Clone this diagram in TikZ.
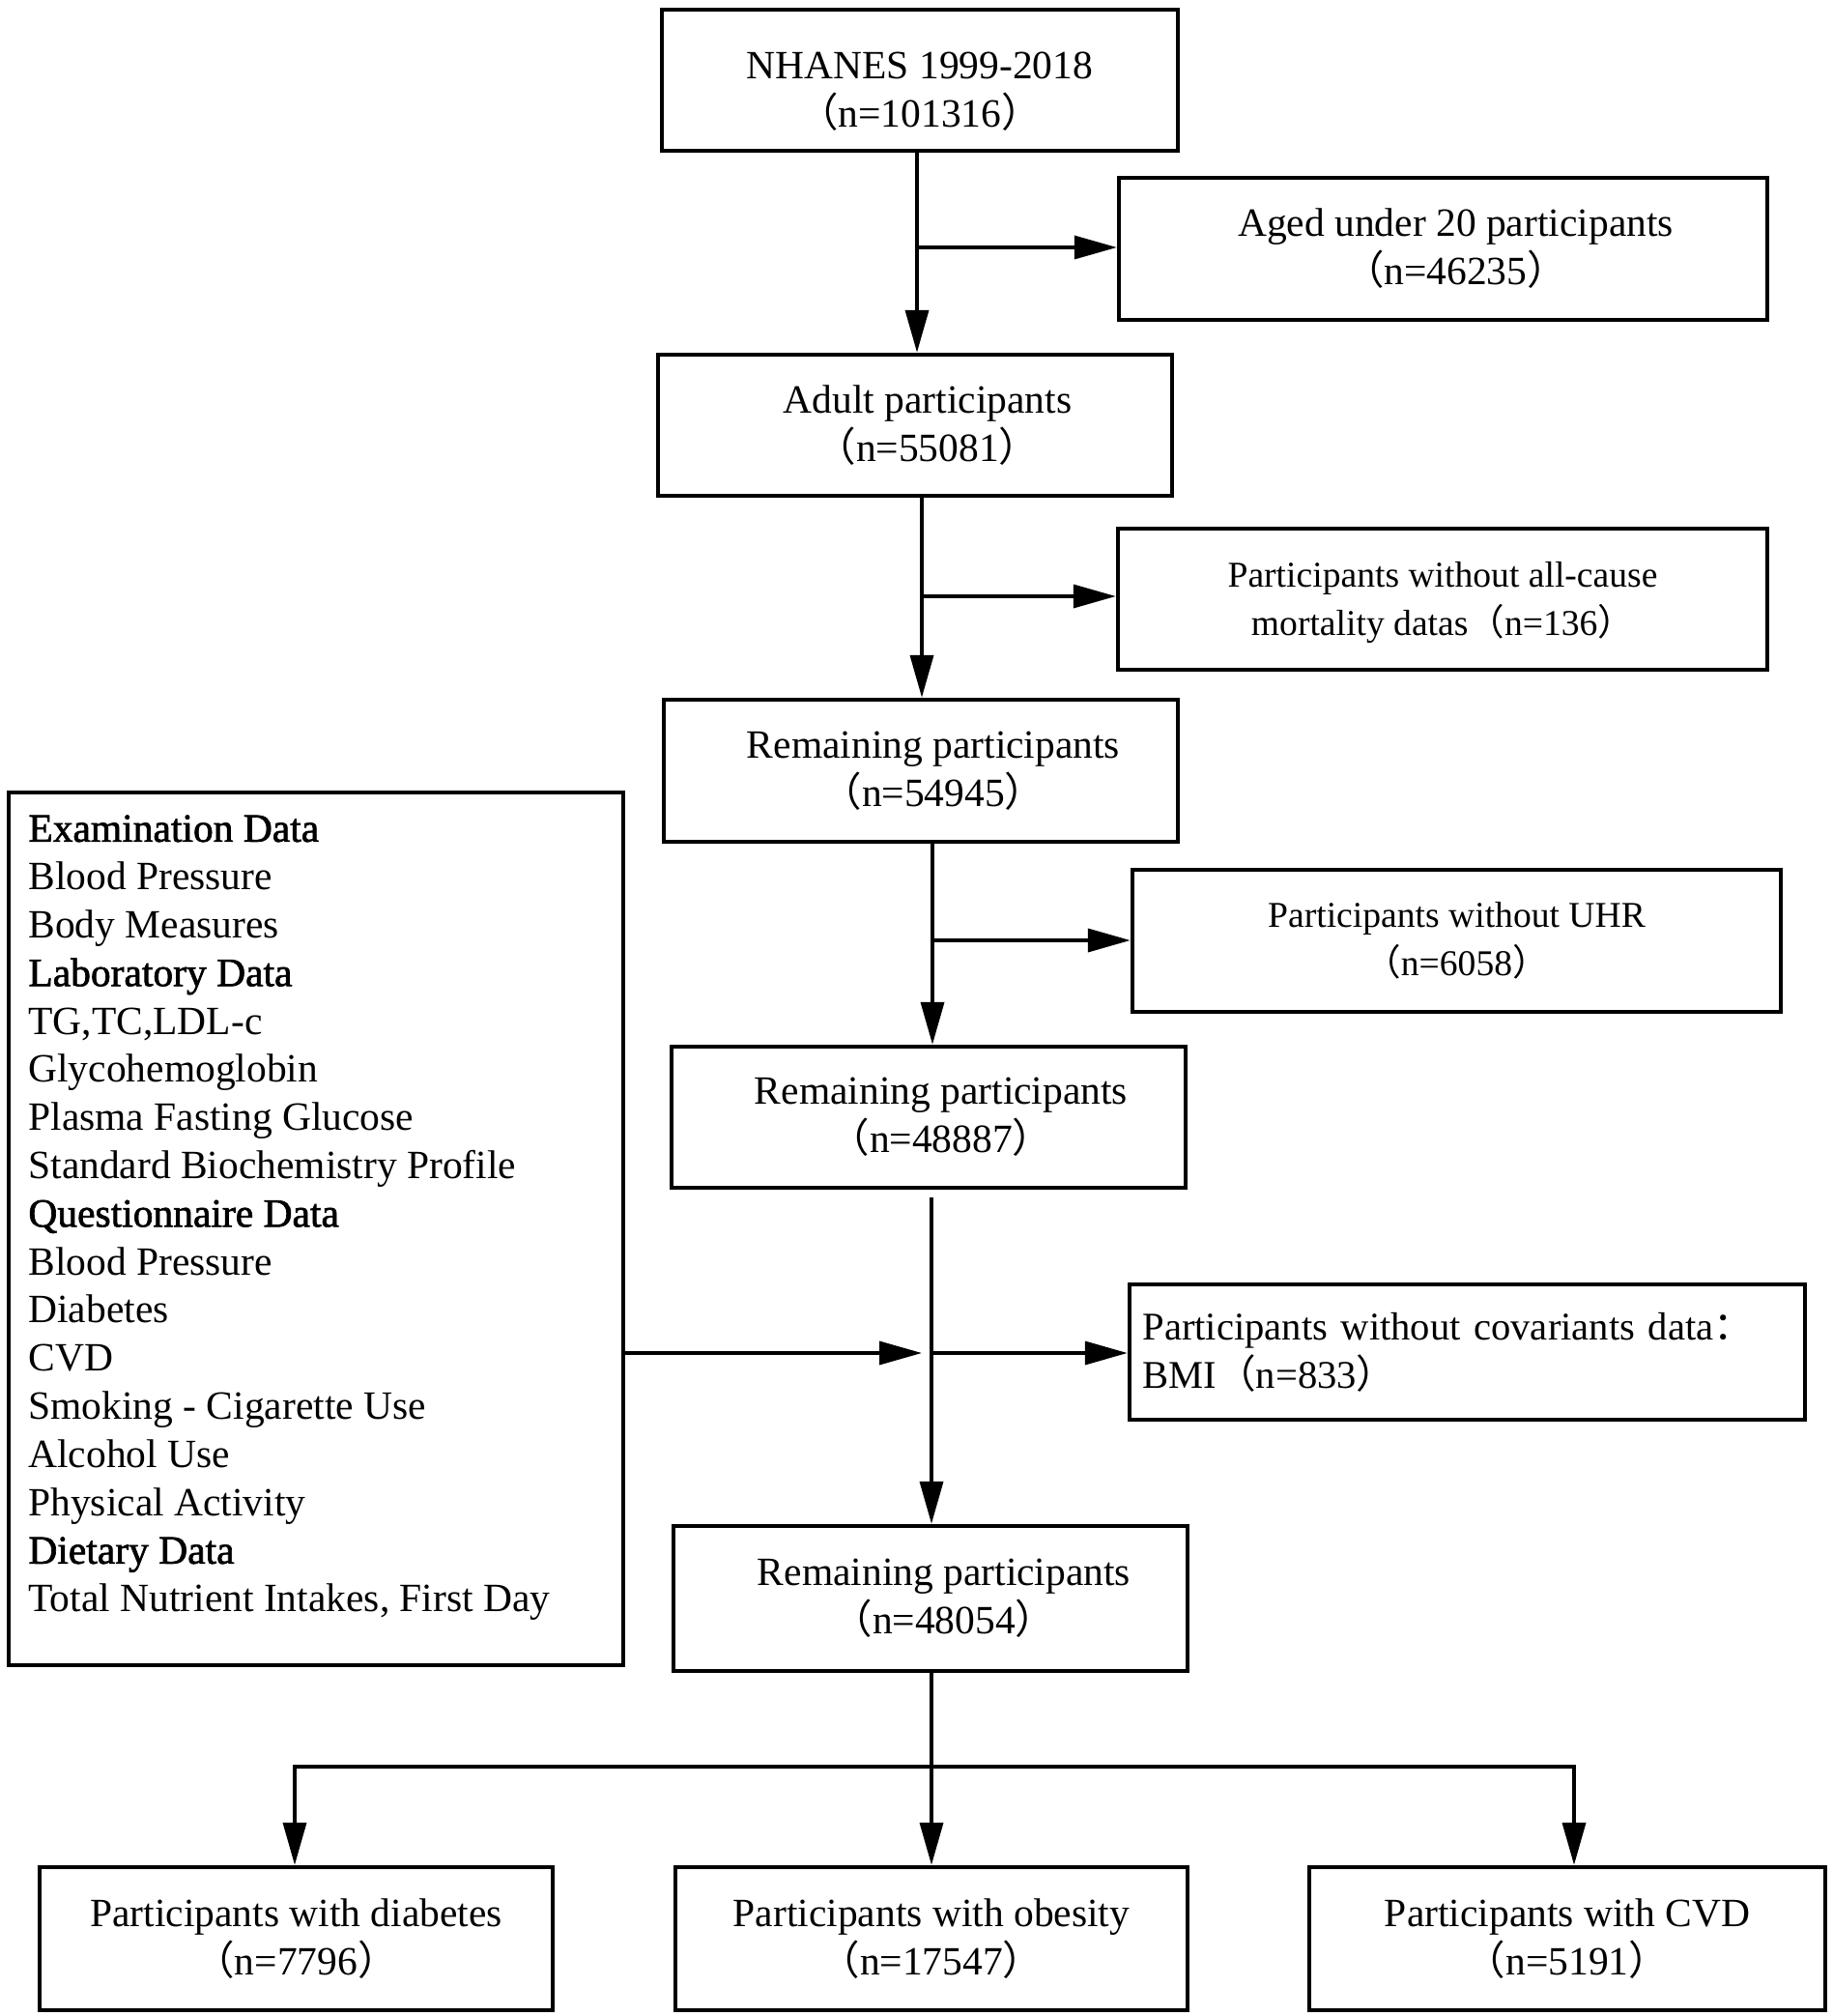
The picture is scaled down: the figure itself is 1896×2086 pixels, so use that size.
\documentclass[tikz,border=0pt]{standalone}
\usepackage{fontspec}
\setmainfont{Liberation Serif}
\newfontfamily\cjk{Noto Sans CJK SC}
\newfontfamily\fbold[FakeBold=1.6]{Liberation Serif}
\usetikzlibrary{arrows.meta}
\newcommand{\lpar}{{\cjk （}}
\newcommand{\rpar}{{\cjk ）}}
\newcommand{\fcolon}{{\cjk ：}}
\begin{document}
\begin{tikzpicture}[x=0.5pt,y=-0.5pt,
  every node/.style={font=\fontsize{20.75}{25}\selectfont},
  box/.style={draw, line width=2.2pt, inner sep=0pt, align=center},
  lbl/.style={align=center, inner sep=0pt},
  small/.style={font=\fontsize{18.8}{25}\selectfont},
  conn/.style={line width=1.8pt},
  arr/.style={conn, -{Triangle[length=22pt,width=12pt]}}]
\useasboundingbox (0,0) rectangle (1896,2086);

% main column
\node[box, minimum width=267pt, minimum height=73pt,
  label={[lbl, yshift=-6pt]center:NHANES 1999-2018\\\lpar n=101316\rpar}] (nh) at (952,83) {};
\node[box, minimum width=266pt, minimum height=73pt,
  label={[lbl, xshift=6.5pt]center:Adult participants\\\lpar n=55081\rpar}] (adult) at (947,440) {};
\node[box, minimum width=266pt, minimum height=73.5pt,
  label={[lbl, xshift=6.5pt]center:Remaining participants\\\lpar n=54945\rpar}] (r1) at (953,797.5) {};
\node[box, minimum width=266pt, minimum height=73pt,
  label={[lbl, xshift=6.5pt]center:Remaining participants\\\lpar n=48887\rpar}] (r2) at (961,1156) {};
\node[box, minimum width=266pt, minimum height=75pt,
  label={[lbl, xshift=7pt]center:Remaining participants\\\lpar n=48054\rpar}] (r3) at (963,1654) {};

% exclusion boxes
\node[box, minimum width=335.5pt, minimum height=73.5pt,
  label={[lbl, xshift=6.5pt]center:Aged under 20 participants\\\lpar n=46235\rpar}] (age) at (1493.5,257.5) {};
\node[box, minimum width=336pt, minimum height=73pt,
  label={[lbl, small, yshift=-2pt]center:Participants without all-cause\\mortality datas\lpar n=136\rpar}] (mort) at (1493,620) {};
\node[box, minimum width=335.5pt, minimum height=73.5pt,
  label={[lbl, small]center:Participants without UHR\\\lpar n=6058\rpar}] (uhr) at (1507.5,973.5) {};
\node[box, minimum width=349.5pt, minimum height=70pt, align=left, text width=336pt,
  font=\fontsize{20.3}{25}\selectfont] (cov) at (1518.5,1399) {Participants without covariants data\fcolon\\BMI\lpar n=833\rpar};

% bottom boxes
\node[box, minimum width=265.5pt, minimum height=74pt] (diab) at (306.5,2006) {Participants with diabetes\\\lpar n=7796\rpar};
\node[box, minimum width=265pt, minimum height=74pt] (obes) at (964,2006) {Participants with obesity\\\lpar n=17547\rpar};
\node[box, minimum width=267pt, minimum height=74pt] (cvdb) at (1622,2006) {Participants with CVD\\\lpar n=5191\rpar};

% left covariates box
\node[box, minimum width=318pt, minimum height=451.5pt] (lbox) at (327,1271.5) {};
\node[anchor=north west, inner sep=0pt, align=left, font=\fontsize{20.75}{24.9}\selectfont] (ltext) at (29,843) {%
{\fbold Examination Data}\\
Blood Pressure\\
Body Measures\\
{\fbold Laboratory Data}\\
TG,TC,LDL-c\\
Glycohemoglobin\\
Plasma Fasting Glucose\\
Standard Biochemistry Profile\\
{\fbold Questionnaire Data}\\
Blood Pressure\\
Diabetes\\
CVD\\
Smoking - Cigarette Use\\
Alcohol Use\\
Physical Activity\\
{\fbold Dietary Data}\\
Total Nutrient Intakes, First Day};

% junctions
\coordinate (j1) at (949,256);
\coordinate (j2) at (954,617);
\coordinate (j3) at (965,973);
\coordinate (j4) at (964,1400);
\coordinate (j5) at (954,1400);
\coordinate (hb) at (964,1828);
\coordinate (hl) at (305,1828);
\coordinate (hr) at (1629,1828);

% connectors
\draw[arr] (nh.south -| j1) -- (adult.north -| j1);
\draw[arr] (j1) -- (j1 -| age.west);
\draw[arr] (adult.south -| j2) -- (r1.north -| j2);
\draw[arr] (j2) -- (j2 -| mort.west);
\draw[arr] (r1.south -| j3) -- (r2.north -| j3);
\draw[arr] (j3) -- (j3 -| uhr.west);
\draw[arr] ([yshift=-4pt]r2.south -| j4) -- (r3.north -| j4);
\draw[arr] (j4) -- (j4 -| cov.west);
\draw[arr] (lbox.east |- j5) -- (j5);
\draw[arr] (r3.south -| hb) -- (obes.north -| hb);
\draw[conn, line width=2.1pt, line cap=rect] (hl) -- (hr);
\draw[arr] (hl) -- (hl |- diab.north);
\draw[arr] (hr) -- (hr |- cvdb.north);
\end{tikzpicture}
\end{document}
